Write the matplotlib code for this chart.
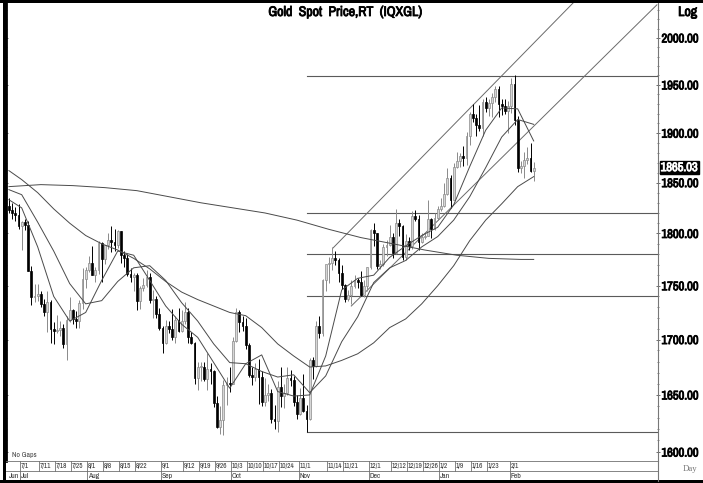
import numpy as np
import pandas as pd
import matplotlib
matplotlib.use('Agg')
import matplotlib.pyplot as plt
import matplotlib.patheffects as pe
from matplotlib.patches import Rectangle
from matplotlib.lines import Line2D
from matplotlib.ticker import FixedLocator, NullFormatter
from matplotlib.transforms import blended_transform_factory
from matplotlib import font_manager

# daily bars, Jun 27 2022 .. Feb 10 2023 (weekdays, "No Gaps")
dates = pd.bdate_range('2022-06-27', '2023-02-10')

opens = [1827, 1823, 1820, 1818, 1807, 1811, 1808, 1764, 1739, 1740,
         1742, 1733, 1725, 1735, 1710, 1708, 1709, 1711, 1696, 1718,
         1727, 1719, 1717, 1734, 1756, 1765, 1772, 1760, 1765, 1791,
         1775, 1789, 1794, 1792, 1789, 1802, 1779, 1776, 1761, 1758,
         1760, 1736, 1748, 1751, 1758, 1737, 1738, 1724, 1711, 1697,
         1712, 1710, 1702, 1718, 1708, 1717, 1725, 1702, 1697, 1665,
         1675, 1675, 1664, 1673, 1671, 1643, 1622, 1628, 1659, 1661,
         1660, 1699, 1725, 1716, 1712, 1695, 1668, 1666, 1673, 1666,
         1644, 1650, 1652, 1629, 1627, 1657, 1649, 1652, 1665, 1663,
         1644, 1633, 1647, 1636, 1629, 1681, 1676, 1712, 1706, 1755,
         1771, 1772, 1776, 1774, 1762, 1751, 1738, 1741, 1750, 1755,
         1754, 1741, 1750, 1768, 1803, 1800, 1769, 1771, 1787, 1789,
         1797, 1781, 1810, 1807, 1777, 1793, 1788, 1817, 1814, 1792,
         1797, 1798, 1814, 1804, 1815, 1824, 1827, 1839, 1855, 1833,
         1866, 1872, 1877, 1875, 1897, 1920, 1916, 1908, 1905, 1932,
         1926, 1931, 1937, 1946, 1930, 1928, 1923, 1928, 1951, 1913,
         1865, 1867, 1873, 1875, 1862]
highs = [1835, 1830, 1826, 1829, 1812, 1814, 1812, 1769, 1752, 1752,
         1745, 1738, 1745, 1737, 1716, 1723, 1717, 1714, 1722, 1739,
         1728, 1726, 1737, 1767, 1768, 1778, 1788, 1768, 1793, 1792,
         1789, 1800, 1807, 1804, 1803, 1802, 1783, 1780, 1767, 1762,
         1762, 1750, 1757, 1765, 1762, 1746, 1740, 1729, 1712, 1718,
         1717, 1728, 1722, 1729, 1727, 1735, 1729, 1707, 1698, 1680,
         1680, 1680, 1688, 1679, 1672, 1649, 1640, 1663, 1666, 1675,
         1702, 1729, 1727, 1722, 1720, 1697, 1675, 1679, 1682, 1671,
         1665, 1660, 1655, 1641, 1662, 1675, 1660, 1675, 1672, 1667,
         1650, 1656, 1669, 1641, 1683, 1684, 1717, 1722, 1756, 1770,
         1777, 1787, 1783, 1776, 1770, 1752, 1746, 1755, 1760, 1757,
         1764, 1755, 1768, 1804, 1810, 1800, 1774, 1790, 1794, 1808,
         1800, 1824, 1814, 1808, 1799, 1797, 1822, 1823, 1818, 1800,
         1800, 1833, 1815, 1820, 1827, 1835, 1850, 1865, 1858, 1870,
         1881, 1880, 1887, 1901, 1922, 1930, 1920, 1929, 1935, 1937,
         1935, 1942, 1949, 1949, 1935, 1935, 1933, 1957, 1960, 1918,
         1872, 1881, 1886, 1890, 1871]
lows = [1820, 1814, 1812, 1804, 1784, 1803, 1764, 1732, 1735, 1736,
        1730, 1722, 1707, 1697, 1696, 1706, 1703, 1692, 1681, 1716,
        1714, 1711, 1711, 1728, 1748, 1763, 1760, 1754, 1761, 1754,
        1771, 1785, 1782, 1783, 1786, 1772, 1768, 1759, 1754, 1745,
        1727, 1728, 1745, 1749, 1734, 1720, 1720, 1709, 1688, 1696,
        1706, 1700, 1697, 1707, 1707, 1714, 1697, 1696, 1660, 1654,
        1662, 1662, 1654, 1660, 1639, 1621, 1616, 1615, 1641, 1653,
        1660, 1698, 1707, 1708, 1691, 1666, 1659, 1662, 1642, 1640,
        1640, 1645, 1625, 1620, 1617, 1639, 1638, 1650, 1658, 1640,
        1629, 1632, 1635, 1617, 1628, 1664, 1675, 1701, 1703, 1745,
        1753, 1765, 1770, 1754, 1747, 1735, 1736, 1733, 1748, 1748,
        1740, 1739, 1745, 1766, 1788, 1766, 1766, 1769, 1778, 1788,
        1776, 1780, 1798, 1774, 1774, 1784, 1785, 1812, 1784, 1791,
        1795, 1798, 1796, 1803, 1813, 1822, 1826, 1838, 1825, 1833,
        1865, 1866, 1867, 1868, 1888, 1911, 1897, 1902, 1897, 1922,
        1918, 1917, 1932, 1917, 1919, 1920, 1900, 1921, 1908, 1861,
        1860, 1855, 1869, 1861, 1852]
closes = [1823, 1820, 1818, 1807, 1811, 1808, 1764, 1739, 1740, 1742,
          1733, 1725, 1735, 1710, 1708, 1709, 1711, 1696, 1718, 1727,
          1719, 1717, 1734, 1756, 1765, 1772, 1760, 1765, 1791, 1775,
          1789, 1794, 1792, 1789, 1802, 1779, 1776, 1761, 1758, 1760,
          1736, 1748, 1751, 1758, 1737, 1738, 1724, 1711, 1697, 1712,
          1710, 1702, 1718, 1708, 1717, 1725, 1702, 1697, 1665, 1675,
          1675, 1664, 1673, 1671, 1643, 1622, 1628, 1659, 1661, 1660,
          1699, 1725, 1716, 1712, 1695, 1668, 1666, 1673, 1666, 1644,
          1650, 1652, 1629, 1627, 1657, 1649, 1652, 1665, 1663, 1644,
          1633, 1647, 1636, 1629, 1681, 1676, 1712, 1706, 1755, 1771,
          1772, 1776, 1774, 1762, 1751, 1738, 1741, 1750, 1755, 1754,
          1741, 1750, 1768, 1803, 1800, 1769, 1771, 1787, 1789, 1797,
          1781, 1810, 1807, 1777, 1793, 1788, 1817, 1814, 1792, 1797,
          1798, 1814, 1804, 1815, 1824, 1827, 1839, 1855, 1833, 1866,
          1872, 1877, 1875, 1897, 1920, 1916, 1908, 1905, 1932, 1926,
          1931, 1937, 1946, 1930, 1928, 1923, 1928, 1951, 1913, 1865,
          1867, 1873, 1875, 1862, 1865]

# moving averages (bar index -> value)
ma_idx = [0, 4, 9, 14, 19, 24, 29, 34, 39, 44, 49, 54, 59, 64, 69, 74, 79,
          84, 89, 94, 99, 104, 109, 114, 119, 124, 129, 134, 139, 144, 149,
          154, 159, 164]
ma10 = [1833, 1825, 1787, 1740, 1717, 1725, 1755, 1783, 1779, 1755, 1731,
        1714, 1702, 1679, 1656, 1678, 1686, 1653, 1649, 1650, 1685, 1746,
        1757, 1760, 1777, 1788, 1798, 1806, 1828, 1866, 1903, 1926, 1925,
        1892]
ma20 = [1843, 1838, 1811, 1783, 1752, 1733, 1736, 1754, 1767, 1769, 1755,
        1734, 1717, 1696, 1679, 1678, 1671, 1666, 1668, 1652, 1667, 1698,
        1721, 1753, 1767, 1774, 1787, 1797, 1813, 1836, 1865, 1896, 1914,
        1909]
ma50 = [1862, 1853, 1840, 1824, 1810, 1798, 1790, 1784, 1776, 1766, 1754,
        1744, 1737, 1731, 1725, 1722, 1711, 1696, 1685, 1675, 1676, 1681,
        1687, 1697, 1711, 1719, 1733, 1750, 1769, 1793, 1813, 1829, 1846,
        1856]
ma200_idx = [0, 10, 20, 30, 40, 50, 60, 70, 80, 90, 100, 110, 120, 130,
             140, 150, 160, 164]
ma200 = [1846, 1848, 1847, 1845, 1842, 1836, 1830, 1825, 1820, 1813, 1804,
         1796, 1790, 1784, 1779, 1776, 1775, 1775]

# horizontal levels and channel lines (from the Nov 15 high / Nov 23 low)
levels = [1959, 1820, 1780, 1740, 1617]
level_start = 93
upper_chan = ([101.3, 176.3], [1786, 2038])
lower_chan = ([107.0, 202.5], [1731, 2036])
last_price = 1865.03

day_ticks = ['7/1', '7/11', '7/18', '7/25', '8/1', '8/8', '8/15', '8/22',
             '9/1', '9/12', '9/19', '9/26', '10/3', '10/10', '10/17', '10/24',
             '11/1', '11/14', '11/21', '12/1', '12/12', '12/19', '12/26',
             '1/2', '1/9', '1/16', '1/23', '2/1']
month_names = ['Jun', 'Jul', 'Aug', 'Sep', 'Oct', 'Nov', 'Dec', 'Jan', 'Feb']


def pick_narrow():
    # look for a condensed sans face, the chart uses an Arial Narrow look
    fl = font_manager.fontManager.ttflist
    for key in ('Narrow', 'Condensed'):
        for f in fl:
            if key in f.name:
                return {'family': f.name}, True
    for f in fl:
        if f.name in ('DejaVu Sans', 'Roboto', 'Open Sans', 'Noto Sans') and 'condensed' in str(f.stretch):
            return {'family': f.name, 'stretch': 'condensed'}, True
    return {'family': 'Liberation Sans'}, False


NF, has_narrow = pick_narrow()
has_bold = any(f.name == NF['family'] and str(f.weight) in ('bold', '700')
               for f in font_manager.fontManager.ttflist)
lab_size = 9 if has_narrow else 7.4
day_size = 5.2 if has_narrow else 4.3


def heavy(color):
    # fake the bold face when the narrow font has no bold file
    if has_bold:
        return []
    return [pe.withStroke(linewidth=0.6, foreground=color)]


W, H = 703, 483
fig = plt.figure(figsize=(W / 100, H / 100), dpi=100)
left_px, right_px, top_px, bot_px = 6, 658, 3, 461
ax = fig.add_axes([left_px / W, 1 - bot_px / H, (right_px - left_px) / W, (bot_px - top_px) / H])

o = np.array(opens, float)
h = np.array(highs, float)
l = np.array(lows, float)
c = np.array(closes, float)
x = np.arange(len(c))
up = c >= o

ax.vlines(x[up], l[up], h[up], color='#8a8a8a', lw=0.7, zorder=3)
ax.vlines(x[~up], l[~up], h[~up], color='black', lw=0.7, zorder=3)
body = np.maximum(np.abs(c - o), 0.8)
ax.bar(x[up], body[up], bottom=o[up], width=0.62, color='#d6d6d6',
       edgecolor='#8a8a8a', lw=0.5, zorder=4)
ax.bar(x[~up], body[~up], bottom=c[~up], width=0.62, color='black',
       edgecolor='black', lw=0.5, zorder=4)

ma_col = '#4a4a4a'
ax.plot(ma_idx, ma10, color=ma_col, lw=0.7, zorder=5)
ax.plot(ma_idx, ma20, color=ma_col, lw=0.7, zorder=5)
ax.plot(ma_idx, ma50, color=ma_col, lw=0.7, zorder=5)
ax.plot(ma200_idx, ma200, color=ma_col, lw=0.7, zorder=5)

xmin = (left_px - 8.9) / 3.2
xmax = (right_px - 8.9) / 3.2
for lv in levels:
    ax.plot([level_start, xmax], [lv, lv], color='#5a5a5a', lw=0.8, zorder=2)
ax.plot(*upper_chan, color='#6a6a6a', lw=0.7, zorder=2)
ax.plot(*lower_chan, color='#6a6a6a', lw=0.7, zorder=2)

ax.set_yscale('log')
ax.set_xlim(xmin, xmax)
ax.set_ylim(1592.3, 2038.0)
majors = list(range(1600, 2001, 50))
ax.yaxis.set_major_locator(FixedLocator(majors))
ax.yaxis.set_minor_locator(FixedLocator([v for v in range(1600, 2040, 10) if v % 50]))
ax.yaxis.set_minor_formatter(NullFormatter())
ax.set_yticklabels(['%.2f' % v for v in majors])
ax.yaxis.tick_right()
ax.tick_params(axis='y', which='both', left=True, right=True, direction='inout',
               colors='#555555', labelcolor='black', pad=1)
ax.tick_params(axis='y', which='major', length=3, width=0.6)
ax.tick_params(axis='y', which='minor', length=2, width=0.5)
for t in ax.get_yticklabels():
    t.set_fontproperties(font_manager.FontProperties(size=lab_size, weight='bold', **NF))
    t.set_path_effects(heavy('black'))
ax.set_xticks([])
ax.spines['top'].set_visible(False)
ax.spines['bottom'].set_visible(False)
ax.spines['right'].set_color('#777777')
ax.spines['right'].set_linewidth(0.8)
ax.spines['left'].set_color('black')
ax.spines['left'].set_linewidth(2.0)

# last price tag
ax.text(1.004, last_price, '%.2f' % last_price,
        transform=blended_transform_factory(ax.transAxes, ax.transData),
        ha='left', va='center', color='white', fontsize=lab_size, fontweight='bold',
        bbox=dict(boxstyle='square,pad=0.08', fc='black', ec='black'), clip_on=False, zorder=10,
        path_effects=heavy('white'), **NF)

# date rows under the plot
tr = blended_transform_factory(ax.transData, fig.transFigure)
fy = lambda py: 1 - py / H
grid_col = '#707070'
for py in (461, 471):
    fig.add_artist(Line2D([left_px / W, right_px / W], [fy(py), fy(py)], color=grid_col, lw=0.6))
fig.add_artist(Line2D([right_px / W, right_px / W], [fy(461), fy(481)], color='#777777', lw=0.8))
pos = {d.strftime('%m/%d'): i for i, d in enumerate(dates)}
for lab in day_ticks:
    m, d = lab.split('/')
    i = pos['%02d/%02d' % (int(m), int(d))]
    ax.add_artist(Line2D([i - 0.5, i - 0.5], [fy(461), fy(471)], transform=tr, color=grid_col, lw=0.6, clip_on=False))
    ax.text(i - 0.25, fy(466.3), lab, transform=tr, ha='left', va='center', fontsize=day_size,
            color='#333333', clip_on=False, **NF)
months = dates.month
starts = [0] + [i for i in range(1, len(dates)) if months[i] != months[i - 1]]
for name, i in zip(month_names, starts):
    if i > 0:
        ax.add_artist(Line2D([i - 0.5, i - 0.5], [fy(471), fy(481)], transform=tr, color=grid_col, lw=0.6, clip_on=False))
    ax.text(i - 0.25 if i > 0 else 0.0, fy(476.3), name, transform=tr, ha='left', va='center',
            fontsize=day_size + 0.3, color='#333333', clip_on=False, **NF)

fig.text(12 / W, fy(455), 'No Gaps', fontsize=day_size + 0.3, color='#444444', va='center', **NF)
fig.text(345 / W, fy(12), 'Gold  Spot  Price,RT  (IQXGL)', ha='center', va='center',
         fontsize=lab_size + 1, fontweight='bold', path_effects=heavy('black'), **NF)
fig.text(697 / W, fy(12), 'Log', ha='right', va='center', fontsize=lab_size + 1, fontweight='bold',
         path_effects=heavy('black'), **NF)
fig.text(697 / W, fy(469), 'Day', ha='right', va='center', fontsize=6.3, color='#777777', family='Liberation Serif')

# outer frame
fig.add_artist(Rectangle((0, 1 - 3 / H), 1, 3 / H, transform=fig.transFigure, color='black', lw=0))
fig.add_artist(Rectangle((0, 0), 1, 3 / H, transform=fig.transFigure, color='black', lw=0))
fig.add_artist(Rectangle((3 / W, 0), 3 / W, 1, transform=fig.transFigure, color='black', lw=0))

fig.savefig('out.png', dpi=100)
